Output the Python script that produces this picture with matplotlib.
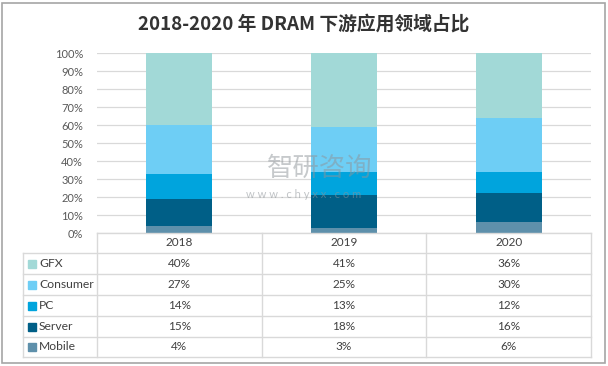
import matplotlib.pyplot as plt
import numpy as np
from matplotlib.patches import Rectangle

plt.rcParams['font.family'] = ['Lato', 'Noto Sans CJK SC', 'DejaVu Sans']

# Dados
anos = ['2018', '2019', '2020']
series = ['GFX', 'Consumer', 'PC', 'Server', 'Mobile']
gfx = [40, 41, 36]
consumer = [27, 25, 30]
pc = [14, 13, 12]
server = [15, 18, 16]
mobile = [4, 3, 6]
cores = ['#A2D9D7', '#6ECEF5', '#00A4DD', '#005F87', '#5E90AB']

valores = [gfx, consumer, pc, server, mobile]

W, H = 608, 366
fig = plt.figure(figsize=(W / 100, H / 100), dpi=100)

# moldura externa
fig.patches.append(Rectangle((2 / W, 3 / H), 603 / W, 360 / H, transform=fig.transFigure,
                             fill=False, edgecolor='#A6A6A6', linewidth=1.2))

# título
fig.text(0.5, 1 - 24 / H, '2018-2020 年 DRAM 下游应用领域占比', ha='center', va='center',
         fontsize=13.5, fontweight='bold', color='#333333',
         family=['Noto Sans CJK SC', 'DejaVu Sans'])

# eixo das barras
x0, x1 = 97, 591
ax = fig.add_axes([x0 / W, 1 - 233 / H, (x1 - x0) / W, (233 - 53) / H])
x = np.arange(len(anos))
base = np.zeros(len(anos))
for nome, vals, cor in zip(series[::-1], valores[::-1], cores[::-1]):
    v = np.array(vals) / 100
    ax.bar(x, v, 0.4, bottom=base, color=cor, zorder=2)
    base += v
ax.set_xlim(-0.5, 2.5)
ax.set_ylim(0, 1)
ax.set_yticks(np.arange(0, 1.01, 0.1))
ax.set_yticklabels([f'{int(round(t * 100))}%' for t in np.arange(0, 1.01, 0.1)])
ax.tick_params(axis='y', length=0, labelsize=8, colors='#595959', pad=10)
ax.set_xticks([])
ax.grid(True, axis='y', color='#D9D9D9', linewidth=0.9, zorder=0)
for s in ax.spines.values():
    s.set_visible(False)

# marca d'água
fig.text(320 / W, 1 - 168 / H, '智研咨询', ha='center', va='center', fontsize=19,
         color='#8E9499', alpha=0.5, family=['Noto Sans CJK SC'], zorder=10)
fig.text(304 / W, 1 - 195 / H, 'w w w . c h y x x . c o m', ha='center', va='center',
         fontsize=8, color='#8E9499', alpha=0.55, zorder=10)

# tabela de dados
tx0, tx1 = 23, 591
tax = fig.add_axes([0, 0, 1, 1], facecolor='none')
tax.set_xlim(0, W)
tax.set_ylim(H, 0)
tax.axis('off')
lc = '#D9D9D9'
linhas = [233, 253, 274, 295, 316, 337, 357]
colw = (tx1 - x0) / 3
colx = [x0 + i * colw for i in range(4)]
# horizontais
tax.plot([x0, tx1], [linhas[0], linhas[0]], color=lc, lw=1)
for yy in linhas[1:]:
    tax.plot([tx0, tx1], [yy, yy], color=lc, lw=1)
# verticais
tax.plot([tx0, tx0], [linhas[1], linhas[-1]], color=lc, lw=1)
for xx in colx:
    tax.plot([xx, xx], [linhas[0], linhas[-1]], color=lc, lw=1)
# cabeçalho
for i, ano in enumerate(anos):
    tax.text(colx[i] + colw / 2, (linhas[0] + linhas[1]) / 2, ano, ha='center', va='center',
             fontsize=8.5, color='#404040')
for r, (nome, vals, cor) in enumerate(zip(series, valores, cores)):
    yc = (linhas[r + 1] + linhas[r + 2]) / 2
    tax.add_patch(Rectangle((28, yc - 4), 8, 8, color=cor))
    tax.text(39, yc, nome, ha='left', va='center', fontsize=8.7, color='#404040')
    for i, v in enumerate(vals):
        tax.text(colx[i] + colw / 2, yc, f'{v}%', ha='center', va='center',
                 fontsize=8.5, color='#404040')

plt.savefig('out.png', dpi=100)
